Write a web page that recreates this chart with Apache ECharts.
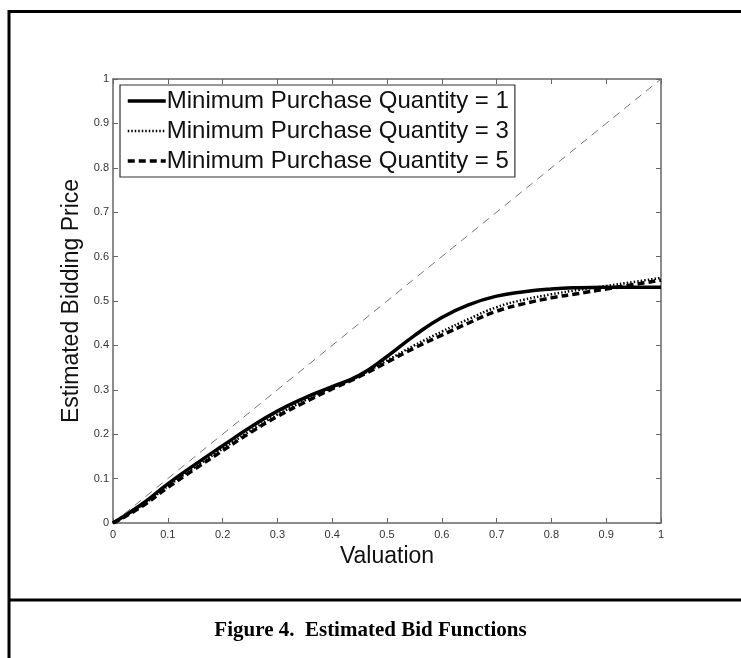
<!DOCTYPE html>
<html>
<head>
<meta charset="utf-8">
<script src="https://cdn.jsdelivr.net/npm/echarts@6/dist/echarts.min.js"></script>
<style>
html,body{margin:0;padding:0;background:#fff;}
#chart{width:741px;height:658px;}
</style>
</head>
<body>
<div id="chart"></div>
<script>
// ---- data ----
const valuation = [0,0.05,0.1,0.15,0.2,0.25,0.3,0.35,0.4,0.45,0.5,0.55,0.6,0.65,0.7,0.75,0.8,0.85,0.9,0.95,1.0];
const mpq1 = [0,0.040,0.088,0.132,0.174,0.215,0.252,0.282,0.307,0.333,0.375,0.422,0.463,0.492,0.511,0.521,0.527,0.530,0.531,0.531,0.531];
const mpq3 = [0,0.037,0.083,0.126,0.167,0.207,0.244,0.276,0.305,0.332,0.366,0.400,0.431,0.460,0.486,0.503,0.515,0.525,0.534,0.543,0.552];
const mpq5 = [0,0.035,0.080,0.122,0.163,0.203,0.240,0.272,0.302,0.330,0.362,0.394,0.423,0.451,0.477,0.494,0.507,0.517,0.527,0.537,0.547];
const diagonalX = [0,1];
const diagonalY = [0,1];
const seriesNames = ['Minimum Purchase Quantity = 1','Minimum Purchase Quantity = 3','Minimum Purchase Quantity = 5'];
const tickLabels = ['0','0.1','0.2','0.3','0.4','0.5','0.6','0.7','0.8','0.9','1'];
const xTitle = 'Valuation';
const yTitle = 'Estimated Bidding Price';
const caption = 'Figure 4.  Estimated Bid Functions';

function pairs(xs, ys){ return xs.map((x,i)=>[x, ys[i]]); }
function tickFmt(v){ const i = Math.round(v*10); return tickLabels[i] !== undefined ? tickLabels[i] : ''; }

const lineStyles = [
  {color:'#000', width:3.5, type:'solid'},
  {color:'#000', width:2.5, type:[1.5,2]},
  {color:'#000', width:3.5, type:[7,4]}
];

const axisColor = '#666';
const baseAxis = {
  type:'value', min:0, max:1, interval:0.1,
  axisLine:{show:true, onZero:false, lineStyle:{color:axisColor, width:1.5}},
  axisTick:{show:true, inside:true, length:5, lineStyle:{color:axisColor}},
  splitLine:{show:false}
};

const chart = echarts.init(document.getElementById('chart'), null, {renderer:'canvas'});
chart.setOption({
  animation:false,
  backgroundColor:'#fff',
  grid:{left:113, top:79, width:548, height:444, containLabel:false},
  xAxis:[
    Object.assign({}, baseAxis, {
      position:'bottom',
      axisLabel:{formatter:tickFmt, color:'#333', fontFamily:'Arial, Liberation Sans', fontSize:11, margin:6},
      name:xTitle, nameLocation:'middle', nameGap:21,
      nameTextStyle:{fontFamily:'Arial, Liberation Sans', fontSize:23, color:'#111'}
    }),
    Object.assign({}, baseAxis, {position:'top', axisLabel:{show:false}})
  ],
  yAxis:[
    Object.assign({}, baseAxis, {
      position:'left',
      axisLabel:{formatter:tickFmt, color:'#333', fontFamily:'Arial, Liberation Sans', fontSize:11, margin:4},
      name:yTitle, nameLocation:'middle', nameGap:22,
      nameTextStyle:{fontFamily:'Arial, Liberation Sans', fontSize:23, color:'#111'}
    }),
    Object.assign({}, baseAxis, {position:'right', axisLabel:{show:false}})
  ],
  legend:{
    data:seriesNames.map((n,i)=>({name:n, lineStyle:Object.assign({}, lineStyles[i])})),
    orient:'vertical', left:120, top:85,
    itemWidth:38, itemHeight:14, itemGap:6,
    padding:[4,6,4,6],
    borderColor:'#333', borderWidth:1.2, borderRadius:0,
    backgroundColor:'#fff',
    itemStyle:{opacity:0},
    textStyle:{fontFamily:'Arial, Liberation Sans', fontSize:24, color:'#111', padding:[0,0,0,-4]}
  },
  series:[
    {name:'diag', type:'line', data:pairs(diagonalX, diagonalY), showSymbol:false, symbol:'none', silent:true,
     lineStyle:{color:'#777', width:1, type:[8,6]}, z:1},
    {name:seriesNames[0], type:'line', data:pairs(valuation, mpq1), smooth:true, showSymbol:false, symbol:'none',
     lineStyle:lineStyles[0], itemStyle:{color:'#000'}, z:3},
    {name:seriesNames[1], type:'line', data:pairs(valuation, mpq3), smooth:true, showSymbol:false, symbol:'none',
     lineStyle:lineStyles[1], itemStyle:{color:'#000'}, z:2},
    {name:seriesNames[2], type:'line', data:pairs(valuation, mpq5), smooth:true, showSymbol:false, symbol:'none',
     lineStyle:lineStyles[2], itemStyle:{color:'#000'}, z:2}
  ],
  graphic:[
    {type:'polyline', shape:{points:[[9,660],[9,11.5],[745,11.5]]}, style:{stroke:'#000', lineWidth:3, fill:null}, silent:true},
    {type:'line', shape:{x1:8, y1:600, x2:745, y2:600}, style:{stroke:'#000', lineWidth:3}, silent:true},
    {type:'text', left:'center', top:620, style:{text:caption, font:'bold 21px "Liberation Serif", "Times New Roman", serif', fill:'#000'}}
  ]
});
</script>
</body>
</html>
